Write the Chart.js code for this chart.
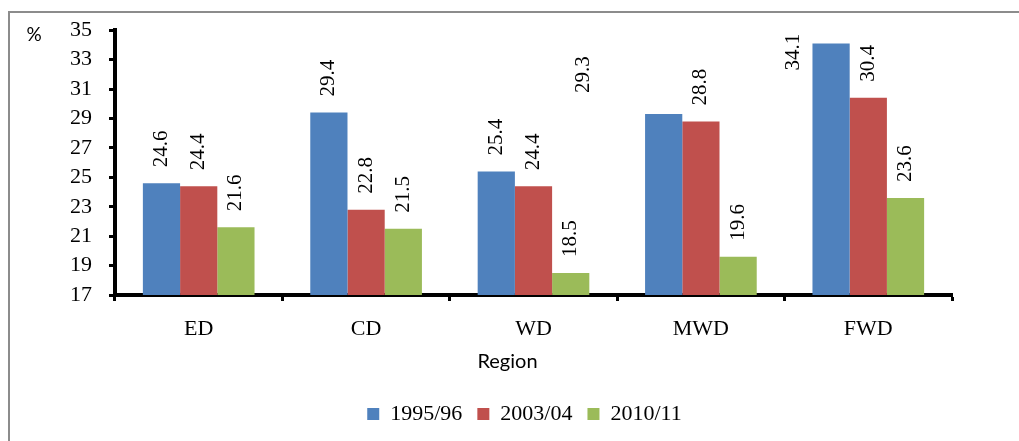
<!DOCTYPE html>
<html>
<head>
<meta charset="utf-8">
<script src="https://cdn.jsdelivr.net/npm/chart.js@4.4.0/dist/chart.umd.min.js"></script>
<style>
  html, body { margin: 0; padding: 0; background: #fff; }
  #wrap { position: relative; width: 1019px; height: 441px; }
</style>
</head>
<body>
<div id="wrap"><canvas id="region-chart" width="1019" height="441"></canvas></div>
<script>
// chart data
const regions = ['ED', 'CD', 'WD', 'MWD', 'FWD'];
const seriesNames = ['1995/96', '2003/04', '2010/11'];
const y1995 = [24.6, 29.4, 25.4, 29.3, 34.1];
const y2003 = [24.4, 22.8, 24.4, 28.8, 30.4];
const y2010 = [21.6, 21.5, 18.5, 19.6, 23.6];
const yTicks = [17, 19, 21, 23, 25, 27, 29, 31, 33, 35];

const colors = ['#4F81BD', '#C0504D', '#9BBB59'];
const serif = "'Liberation Serif', 'Times New Roman', serif";
const sans = "Lato, 'Liberation Sans', sans-serif";

// a few labels were moved by hand in the original
const labelShift = { '0-3': [-80, -5], '0-4': [-38, 43] };

const decorations = {
    id: 'decorations',
    afterLayout(chart) {
        // legend sits a little left of the plot centre
        chart.legend.left -= 9;
        chart.legend.right -= 9;
    },
    beforeDraw(chart) {
        const ctx = chart.ctx;
        ctx.save();
        ctx.strokeStyle = '#8c8c8c';
        ctx.lineWidth = 2;
        ctx.beginPath();
        ctx.moveTo(9, 441);
        ctx.lineTo(9, 12);
        ctx.lineTo(1019, 12);
        ctx.stroke();
        ctx.restore();
    },
    afterDatasetsDraw(chart) {
        const ctx = chart.ctx;
        const area = chart.chartArea;
        ctx.save();
        ctx.fillStyle = '#000';
        ctx.font = `21px ${serif}`;
        chart.data.datasets.forEach((ds, i) => {
            chart.getDatasetMeta(i).data.forEach((bar, j) => {
                const off = labelShift[`${i}-${j}`] || [0, 0];
                ctx.save();
                ctx.translate(bar.x + off[0], bar.y - 16 + off[1]);
                ctx.rotate(-Math.PI / 2);
                ctx.textAlign = 'left';
                ctx.textBaseline = 'middle';
                ctx.fillText(ds.data[j].toFixed(1), 0, 0);
                ctx.restore();
            });
        });
        // unit and axis title
        ctx.font = `19px ${sans}`;
        ctx.textAlign = 'center';
        ctx.textBaseline = 'middle';
        ctx.fillText('%', area.left - 81, area.top + 5);
        ctx.font = `20px ${sans}`;
        ctx.fillText('Region', (area.left + area.right) / 2 - 26, area.bottom + 67);
        ctx.restore();
    }
};

function initChart() {
    const ctx = document.getElementById('region-chart').getContext('2d');
    new Chart(ctx, {
        type: 'bar',
        data: {
            labels: regions,
            datasets: [y1995, y2003, y2010].map((vals, i) => ({
                label: seriesNames[i],
                data: vals,
                backgroundColor: colors[i],
                borderWidth: 0,
                barPercentage: 1.0,
                categoryPercentage: 0.667
            }))
        },
        options: {
            responsive: false,
            animation: false,
            layout: { padding: { top: 30, right: 67, bottom: 6, left: 0 } },
            scales: {
                x: {
                    grid: {
                        drawOnChartArea: false,
                        drawTicks: true,
                        tickLength: 6,
                        tickWidth: 3,
                        color: '#000',
                        offset: true
                    },
                    border: { color: '#000', width: 4 },
                    ticks: { color: '#000', font: { family: serif, size: 22 }, padding: 15 },
                    afterFit(scale) { scale.height = 93; }
                },
                y: {
                    min: 17,
                    max: 35,
                    afterBuildTicks(scale) { scale.ticks = yTicks.map(v => ({ value: v })); },
                    grid: {
                        drawOnChartArea: false,
                        drawTicks: true,
                        tickLength: 6,
                        tickWidth: 3,
                        color: '#000'
                    },
                    border: { color: '#000', width: 4 },
                    ticks: { color: '#000', font: { family: serif, size: 22 }, padding: 17 },
                    afterFit(scale) { scale.width = 115; }
                }
            },
            plugins: {
                legend: {
                    position: 'bottom',
                    fullSize: false,
                    labels: {
                        color: '#000',
                        boxWidth: 12,
                        boxHeight: 12,
                        padding: 15,
                        font: { family: serif, size: 22 }
                    }
                },
                tooltip: { enabled: false }
            }
        },
        plugins: [decorations]
    });
}

initChart();
</script>
</body>
</html>
